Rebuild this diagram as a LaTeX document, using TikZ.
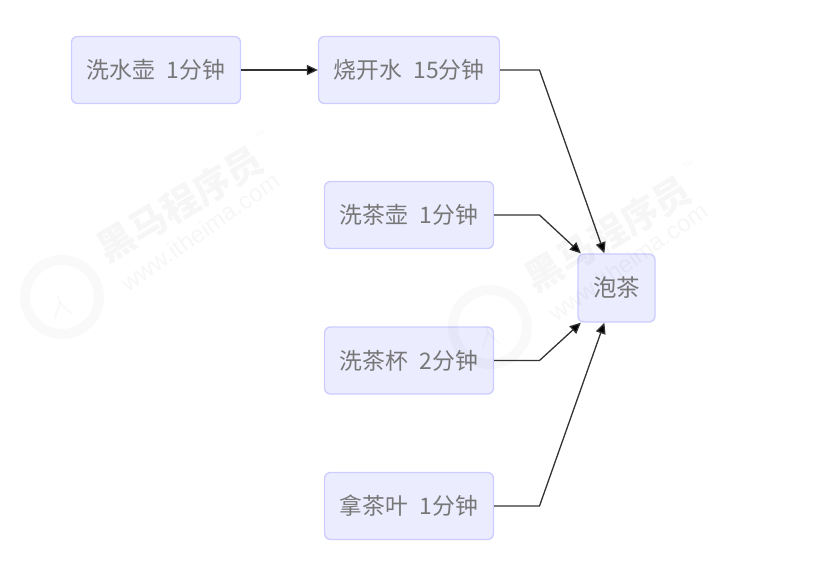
\documentclass[tikz,border=0pt]{standalone}
\usepackage{fontspec}
\usetikzlibrary{arrows.meta,calc}
\setmainfont{Noto Sans CJK SC}
\newfontfamily\latinwm{Liberation Sans}
\definecolor{boxfill}{HTML}{ECECFF}
\definecolor{boxline}{HTML}{CCCCFF}
\definecolor{labeltext}{HTML}{777777}
\definecolor{flowline}{HTML}{333333}
\tikzset{
  flowbox/.style={draw=boxline,fill=boxfill,line width=1.3bp,rounded corners=6bp,inner sep=0pt,
    minimum height=67bp,text=labeltext,font=\fontsize{22.8bp}{27bp}\selectfont},
  flow/.style={draw=flowline,line width=1.3bp,-{Triangle[length=11bp,width=10bp,fill=black]}},
  wmcn/.style={text=black,text opacity=.035,font=\fontsize{37bp}{40bp}\selectfont\bfseries,rotate=31,inner sep=0pt},
  wmen/.style={text=black,text opacity=.035,font=\fontsize{24bp}{26bp}\selectfont\latinwm,rotate=35,inner sep=0pt},
  wmtm/.style={text=black,text opacity=.035,font=\fontsize{7bp}{8bp}\selectfont\latinwm,rotate=35,inner sep=0pt},
  wmring/.style={draw=black,draw opacity=.025,line width=10bp},
  wmhorse/.style={draw=black,draw opacity=.025,line width=2bp,line cap=round}
}
\begin{document}
\begin{tikzpicture}[x=1bp,y=-1bp]
\useasboundingbox (0,0) rectangle (837,579);
% nodes
\node[flowbox,minimum width=169bp] (hu) at (156,70) {洗水壶\hspace{0.5em}1分钟};
\node[flowbox,minimum width=181bp] (shui) at (409,70) {烧开水\hspace{0.5em}15分钟};
\node[flowbox,minimum width=169bp] (chahu) at (409,215) {洗茶壶\hspace{0.5em}1分钟};
\node[flowbox,minimum width=169bp] (bei) at (409,360.5) {洗茶杯\hspace{0.5em}2分钟};
\node[flowbox,minimum width=169bp] (ye) at (409,506) {拿茶叶\hspace{0.5em}1分钟};
\node[flowbox,minimum width=77bp,minimum height=68bp,font=\fontsize{23.5bp}{27bp}\selectfont] (pao) at (616.5,288) {泡茶};
% connector bends and entry points
\coordinate (b1) at (539.5,70);
\coordinate (b2) at (539.5,215);
\coordinate (b3) at (539.5,360.5);
\coordinate (b4) at (539.5,506);
\coordinate (n1) at ($(pao.north west)+(27,0)$);
\coordinate (n2) at ($(pao.north west)+(3.5,0)$);
\coordinate (s3) at ($(pao.south west)+(3.5,0)$);
\coordinate (s4) at ($(pao.south west)+(27,0)$);
% connectors
\draw[flow] (hu.east) -- (shui.west);
\draw[flow] (shui.east) -- (b1) -- (n1);
\draw[flow] (chahu.east) -- (b2) -- (n2);
\draw[flow] (bei.east) -- (b3) -- (s3);
\draw[flow] (ye.east) -- (b4) -- (s4);
% watermarks
\foreach \dx/\dy/\n in {0/0/a,428/30/b}{
  \begin{scope}[shift={(\dx,\dy)}]
    \node[wmcn] (wc\n) at (180,204) {黑马程序员};
    \node[wmen] (we\n) at (200,232) {www.itheima.com};
    \node[wmtm] (wt\n) at (260,134) {TM};
    \node[wmring,circle,minimum size=74bp] (wr\n) at (62,297) {};
    \draw[wmhorse] (58,296) -- (60,303) -- (55,318);
    \draw[wmhorse] (60,303) -- (72,314);
  \end{scope}
}
\end{tikzpicture}
\end{document}
